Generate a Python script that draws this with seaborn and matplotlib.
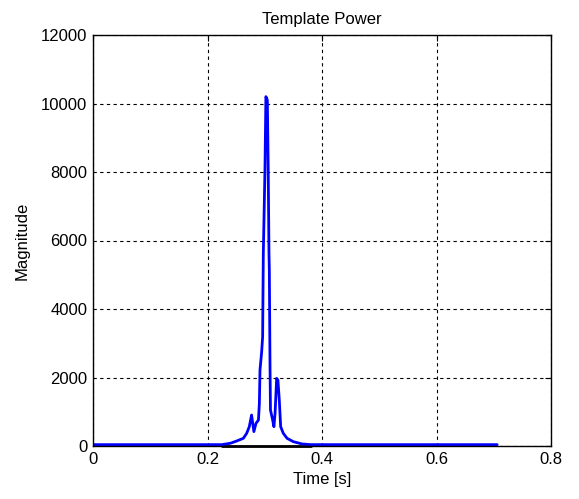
import matplotlib
matplotlib.use("Agg")
import matplotlib.pyplot as plt
import seaborn as sns
import pandas as pd

time_s = [0.0, 0.225, 0.240, 0.251, 0.2626, 0.2684, 0.273, 0.277, 0.279, 0.281,
          0.2847, 0.289, 0.2906, 0.2917, 0.2946, 0.2963, 0.2975, 0.3004, 0.302,
          0.3045, 0.306, 0.3074, 0.308, 0.3092, 0.310, 0.3138, 0.316, 0.318,
          0.3208, 0.323, 0.3254, 0.3278, 0.3324, 0.339, 0.35, 0.365, 0.38, 0.706]
magnitude = [40, 40, 80, 146, 224, 370, 564, 905, 660, 420,
             660, 760, 1245, 2220, 2750, 3190, 5620, 8100, 10200,
             10100, 8150, 5620, 5140, 2315, 1050, 760, 564, 950,
             1975, 1925, 1340, 564, 370, 224, 126, 60, 40, 40]
ref_time = [0.226, 0.381]
ref_mag = [0, 0]

x_ticks = [0, 0.2, 0.4, 0.6, 0.8]
x_tick_labels = ["0", "0.2", "0.4", "0.6", "0.8"]
y_ticks = [0, 2000, 4000, 6000, 8000, 10000, 12000]
y_tick_labels = ["0", "2000", "4000", "6000", "8000", "10000", "12000"]

sns.set_style("white")
plt.rcParams['font.family'] = ['Liberation Sans', 'DejaVu Sans']
plt.rcParams['text.color'] = 'black'
plt.rcParams['axes.labelcolor'] = 'black'

fig = plt.figure(figsize=(5.79, 4.99), dpi=100)
ax = fig.add_axes([93/579, 1-446/499, (551-93)/579, (446-35)/499])

df_ref = pd.DataFrame({"t": ref_time, "m": ref_mag})
df = pd.DataFrame({"t": time_s, "m": magnitude})
sns.lineplot(data=df_ref, x="t", y="m", ax=ax, color="black", linewidth=2, clip_on=False)
sns.lineplot(data=df, x="t", y="m", ax=ax, color="#0000ff", linewidth=2, sort=False)

ax.set_xlim(0, 0.8)
ax.set_ylim(0, 12000)
ax.set_xticks(x_ticks)
ax.set_xticklabels(x_tick_labels)
ax.set_yticks(y_ticks)
ax.set_yticklabels(y_tick_labels)
ax.grid(True, color="black", linestyle=(0, (3, 3)), linewidth=0.8)
ax.tick_params(direction="in", length=4, width=0.8, top=True, right=True,
               labelsize=12, colors="black", labelcolor="black", pad=4)
for s in ax.spines.values():
    s.set_color("black")
    s.set_linewidth(1)
ax.set_xlabel("Time [s]", fontsize=12, labelpad=4, color="black")
ax.set_ylabel("Magnitude", fontsize=12, labelpad=8, color="black")
ax.set_title("Template Power", fontsize=12, pad=8, color="black")

fig.savefig("out.png", dpi=100)
